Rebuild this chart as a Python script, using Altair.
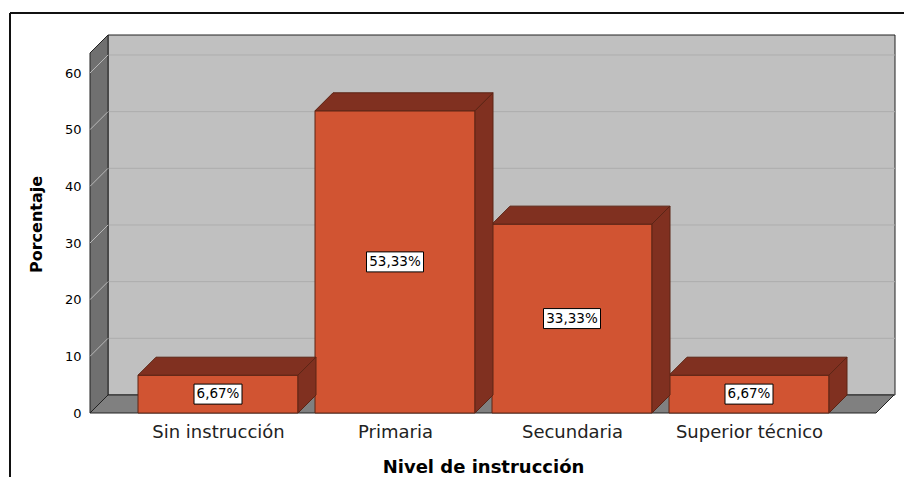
import altair as alt
import pandas as pd

# ---- data ----
categories = ["Sin instrucción", "Primaria", "Secundaria", "Superior técnico"]
values = [6.67, 53.33, 33.33, 6.67]
labels = ["6,67%", "53,33%", "33,33%", "6,67%"]
y_ticks = [0, 10, 20, 30, 40, 50, 60]
grid_values = [10, 20, 30, 40, 50, 60]

# ---- layout (pixels -> data units) ----
W, H = 805, 378
PX_X = 177.0          # px per category unit
PX_Y = 340.0 / 60.0   # px per percent
XMAX = W / PX_X
YMAX = H / PX_Y
DX = 18 / PX_X
DZ = 18 / PX_Y
FRONT_W = 786 / PX_X
BAR_START = 48 / PX_X
BAR_W = 160 / PX_X

FONT = "DejaVu Sans"
FRONT = "#d15432"
DARK = "#803020"
EDGE = "#5c2414"

bars = pd.DataFrame({"cat": categories, "value": values, "label": labels})
bars["x0"] = [BAR_START + i for i in range(len(categories))]
bars["x1"] = bars["x0"] + BAR_W
bars["xc"] = (bars["x0"] + bars["x1"]) / 2
bars["ymid"] = bars["value"] / 2
bars["bx0"] = bars["xc"] - (bars["label"].str.len() * 9 + 3) / 2 / PX_X
bars["bx1"] = bars["xc"] + (bars["label"].str.len() * 9 + 3) / 2 / PX_X
bars["by0"] = bars["ymid"] - 10 / PX_Y
bars["by1"] = bars["ymid"] + 10 / PX_Y

top_rows, side_rows = [], []
for _, r in bars.iterrows():
    v = r["value"]
    top_rows += [
        {"cat": r["cat"], "x": r["x0"], "lo": v, "hi": v},
        {"cat": r["cat"], "x": r["x0"] + DX, "lo": v, "hi": v + DZ},
        {"cat": r["cat"], "x": r["x1"], "lo": v, "hi": v + DZ},
        {"cat": r["cat"], "x": r["x1"] + DX, "lo": v + DZ, "hi": v + DZ},
    ]
    side_rows += [
        {"cat": r["cat"], "x": r["x1"], "lo": 0, "hi": v},
        {"cat": r["cat"], "x": r["x1"] + DX, "lo": DZ, "hi": v + DZ},
    ]
top_df = pd.DataFrame(top_rows)
side_df = pd.DataFrame(side_rows)

back_df = pd.DataFrame({"x": [DX], "x2": [XMAX], "y": [DZ], "y2": [YMAX]})
left_df = pd.DataFrame({"k": ["w", "w"], "x": [0, DX], "lo": [0, DZ], "hi": [YMAX - DZ, YMAX]})
floor_df = pd.DataFrame({"k": ["f"] * 4, "x": [0, DX, FRONT_W, FRONT_W + DX],
                         "lo": [0, 0, 0, DZ], "hi": [0, DZ, DZ, DZ]})
grid_back = pd.DataFrame({"x": DX, "x2": XMAX, "y": [g + DZ for g in grid_values]})
grid_left = pd.DataFrame({"x": 0, "x2": DX, "y": grid_values, "y2": [g + DZ for g in grid_values]})

centers = list(bars["xc"])
label_expr = "[" + ",".join("'" + c + "'" for c in categories) + "][round(datum.value - %f)]" % centers[0]

xs = alt.Scale(domain=[0, XMAX], nice=False, zero=False)
ys = alt.Scale(domain=[0, YMAX], nice=False, zero=False)
x_axis = alt.Axis(values=centers, labelExpr=label_expr, title="Nivel de instrucción",
                  grid=False, domain=False, ticks=False, tickSize=0, labelPadding=10,
                  labelFont=FONT, labelFontSize=18, labelColor="#222",
                  titleFont=FONT, titleFontSize=18, titleFontWeight="bold", titleColor="#000",
                  titlePadding=17, titleX=393)
y_axis = alt.Axis(values=y_ticks, title="Porcentaje", grid=False, domain=False, ticks=False,
                  tickSize=0, labelPadding=9, labelFont=FONT, labelFontSize=13, labelColor="#000",
                  titleFont=FONT, titleFontSize=16, titleFontWeight="bold", titleColor="#000",
                  titlePadding=20)


def X(field):
    return alt.X(field, type="quantitative", scale=xs, axis=x_axis)


def Y(field):
    return alt.Y(field, type="quantitative", scale=ys, axis=y_axis)


back = alt.Chart(back_df).mark_rect(fill="#c0c0c0", stroke="#222", strokeWidth=1).encode(
    x=X("x"), x2="x2", y=Y("y"), y2="y2")
gback = alt.Chart(grid_back).mark_rule(color="#adadad", strokeWidth=1).encode(
    x=X("x"), x2="x2", y=Y("y"))
left = alt.Chart(left_df).mark_area(fill="#707070", stroke="#222", strokeWidth=1).encode(
    x=X("x"), y=Y("lo"), y2="hi", detail="k")
gleft = alt.Chart(grid_left).mark_rule(color="#b8b8b8", strokeWidth=1).encode(
    x=X("x"), x2="x2", y=Y("y"), y2="y2")
floor = alt.Chart(floor_df).mark_area(fill="#808080", stroke="#222", strokeWidth=1).encode(
    x=X("x"), y=Y("lo"), y2="hi", detail="k")

front = alt.Chart(bars).mark_rect(fill=FRONT, stroke=EDGE, strokeWidth=1).encode(
    x=X("x0"), x2="x1", y=Y("value"), y2=alt.datum(0))
top = alt.Chart(top_df).mark_area(fill=DARK, stroke=EDGE, strokeWidth=1).encode(
    x=X("x"), y=Y("lo"), y2="hi", detail="cat")
side = alt.Chart(side_df).mark_area(fill=DARK, stroke=EDGE, strokeWidth=1).encode(
    x=X("x"), y=Y("lo"), y2="hi", detail="cat")
box = alt.Chart(bars).mark_rect(fill="white", stroke="#000", strokeWidth=1).encode(
    x=X("bx0"), x2="bx1", y=Y("by0"), y2="by1")
txt = alt.Chart(bars).mark_text(font=FONT, fontSize=13.5, color="#000", baseline="middle").encode(
    x=X("xc"), y=Y("ymid"), text="label")

dummy = pd.DataFrame({"a": [0]})
frame_top = alt.Chart(dummy).mark_rule(color="#111", strokeWidth=2).encode(
    x=alt.value(-80), x2=alt.value(830), y=alt.value(-22))
frame_left = alt.Chart(dummy).mark_rule(color="#111", strokeWidth=2).encode(
    x=alt.value(-80), y=alt.value(-22), y2=alt.value(460))

chart = alt.layer(back, gback, left, gleft, floor, front, top, side, box, txt,
                  frame_top, frame_left).properties(
    width=W, height=H,
    autosize=alt.AutoSizeParams(type="none"),
    padding={"left": 82, "top": 27, "right": 9, "bottom": 64},
    background="white",
).configure_view(stroke=None)

chart.save("out.html", embed_options={"renderer": "svg", "actions": False})
